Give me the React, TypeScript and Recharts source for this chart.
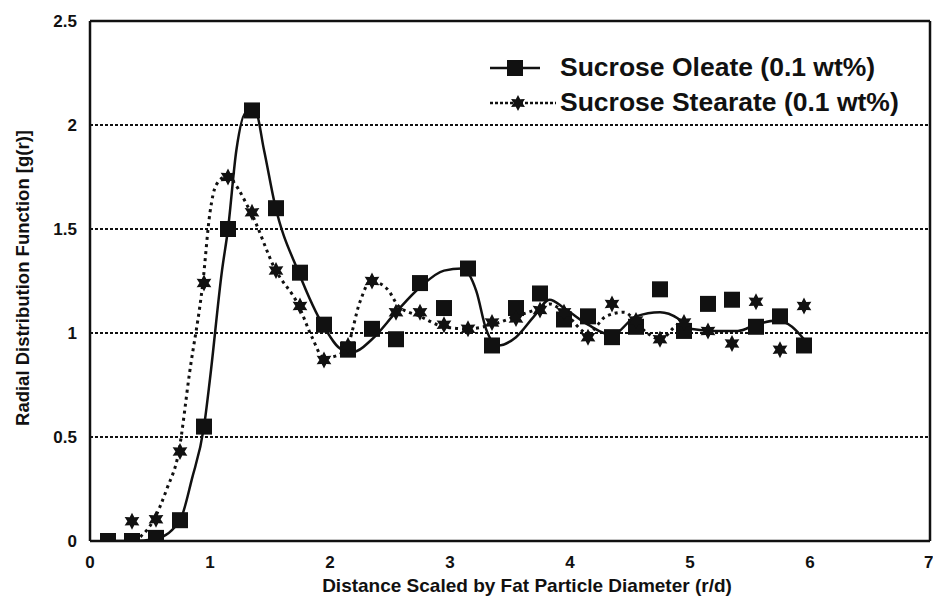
import React from "react";
import {
  ComposedChart,
  Line,
  Scatter,
  XAxis,
  YAxis,
  CartesianGrid,
  ReferenceLine,
  Legend,
} from "recharts";

// Sample positions (r/d)
const oleateX = [0.15, 0.35, 0.55, 0.75, 0.95, 1.15, 1.35, 1.55, 1.75, 1.95, 2.15, 2.35, 2.55, 2.75, 2.95, 3.15, 3.35, 3.55, 3.75, 3.95, 4.15, 4.35, 4.55, 4.75, 4.95, 5.15, 5.35, 5.55, 5.75, 5.95];
const oleateY = [0, 0, 0.015, 0.1, 0.55, 1.5, 2.07, 1.6, 1.29, 1.04, 0.92, 1.02, 0.97, 1.24, 1.12, 1.31, 0.94, 1.12, 1.19, 1.065, 1.08, 0.98, 1.03, 1.21, 1.01, 1.14, 1.16, 1.03, 1.08, 0.94];

const stearateX = [0.35, 0.55, 0.75, 0.95, 1.15, 1.35, 1.55, 1.75, 1.95, 2.15, 2.35, 2.55, 2.75, 2.95, 3.15, 3.35, 3.55, 3.75, 3.95, 4.15, 4.35, 4.55, 4.75, 4.95, 5.15, 5.35, 5.55, 5.75, 5.95];
const stearateY = [0.095, 0.105, 0.43, 1.24, 1.75, 1.58, 1.3, 1.13, 0.87, 0.94, 1.25, 1.1, 1.1, 1.04, 1.02, 1.05, 1.07, 1.11, 1.1, 0.98, 1.14, 1.06, 0.97, 1.05, 1.01, 0.95, 1.15, 0.92, 1.13];

// Smoothed trend curves
const oleateFitX = [0.15, 0.35, 0.55, 0.75, 0.85, 0.95, 1.0, 1.1, 1.15, 1.22, 1.3, 1.38, 1.45, 1.54, 1.74, 1.95, 2.1, 2.2, 2.35, 2.55, 2.75, 2.95, 3.1, 3.22, 3.3, 3.4, 3.55, 3.7, 3.83, 3.95, 4.15, 4.35, 4.55, 4.75, 4.9, 5.0, 5.2, 5.4, 5.55, 5.72, 5.85, 5.95];
const oleateFitY = [0, 0, 0.01, 0.1, 0.3, 0.55, 0.78, 1.3, 1.5, 1.88, 2.06, 2.06, 1.88, 1.62, 1.29, 1.03, 0.92, 0.91, 0.97, 1.1, 1.22, 1.3, 1.31, 1.2, 1.02, 0.94, 0.98, 1.08, 1.16, 1.12, 1.04, 0.99, 1.08, 1.1, 1.07, 1.02, 1.01, 1.01, 1.04, 1.06, 1.03, 0.97];

const stearateFitX = [0.42, 0.53, 0.64, 0.74, 0.83, 0.94, 1.0, 1.05, 1.13, 1.34, 1.54, 1.74, 1.85, 1.95, 2.05, 2.14, 2.25, 2.34, 2.48, 2.57, 2.75, 2.95, 3.15, 3.35, 3.55, 3.75, 3.83, 3.95, 4.15, 4.3, 4.45, 4.6, 4.75, 4.9, 5.0];
const stearateFitY = [0.02, 0.1, 0.25, 0.43, 0.81, 1.24, 1.58, 1.71, 1.75, 1.58, 1.31, 1.13, 0.98, 0.88, 0.89, 0.93, 1.15, 1.25, 1.21, 1.13, 1.08, 1.03, 1.02, 1.04, 1.08, 1.12, 1.14, 1.1, 1.0, 1.08, 1.1, 1.02, 0.97, 1.04, 1.05];

const xTicks = [0, 1, 2, 3, 4, 5, 6, 7];
const yTicks = [0, 0.5, 1, 1.5, 2, 2.5];

const seriesNames = ["Sucrose Oleate (0.1 wt%)", "Sucrose Stearate (0.1 wt%)"];
const xTitle = "Distance Scaled by Fat Particle Diameter (r/d)";
const yTitle = "Radial Distribution Function [g(r)]";

const zip = (xs: number[], ys: number[]) => xs.map((x, i) => ({ x, y: ys[i] }));
const oleate = zip(oleateX, oleateY);
const stearate = zip(stearateX, stearateY);
const oleateFit = zip(oleateFitX, oleateFitY);
const stearateFit = zip(stearateFitX, stearateFitY);

const INK = "#111";
const FONT = "'Liberation Sans', Arial, sans-serif";

const starPath = (cx: number, cy: number, ro: number, ri: number) => {
  let d = "";
  for (let i = 0; i < 12; i++) {
    const r = i % 2 === 0 ? ro : ri;
    const a = (Math.PI / 6) * i - Math.PI / 2;
    d += (i === 0 ? "M" : "L") + (cx + r * Math.cos(a)).toFixed(2) + "," + (cy + r * Math.sin(a)).toFixed(2);
  }
  return d + "Z";
};

const SquareShape = (props: any) => {
  const { cx, cy } = props;
  if (cx == null || cy == null) return null;
  return <rect x={cx - 8} y={cy - 8} width={16} height={16} fill={INK} />;
};

const StarShape = (props: any) => {
  const { cx, cy } = props;
  if (cx == null || cy == null) return null;
  return <path d={starPath(cx, cy, 8.5, 4.6)} fill={INK} />;
};

const LegendContent = () => (
  <div style={{ fontFamily: FONT, fontWeight: "bold", fontSize: 26.5, color: INK, lineHeight: "35px", whiteSpace: "nowrap" }}>
    <div style={{ display: "flex", alignItems: "center" }}>
      <svg width={68} height={20} style={{ marginRight: 2 }}>
        <line x1={0} y1={10} x2={50} y2={10} stroke={INK} strokeWidth={2.5} />
        <rect x={17} y={2} width={16} height={16} fill={INK} />
      </svg>
      <span>{seriesNames[0]}</span>
    </div>
    <div style={{ display: "flex", alignItems: "center" }}>
      <svg width={68} height={20} style={{ marginRight: 2 }}>
        <line x1={0} y1={10} x2={66} y2={10} stroke={INK} strokeWidth={2.5} strokeDasharray="3 2" />
        <path d={starPath(28, 10, 8, 4.4)} fill={INK} />
      </svg>
      <span>{seriesNames[1]}</span>
    </div>
  </div>
);

export default function App() {
  return (
    <div style={{ position: "absolute", left: 0, top: 0, width: 933, height: 599, background: "#fff" }}>
      <ComposedChart width={933} height={599} margin={{ top: 21, right: 3, left: 0, bottom: 0 }}>
        <CartesianGrid vertical={false} stroke={INK} strokeDasharray="3 2" strokeWidth={1.8} />
        <XAxis
          type="number"
          dataKey="x"
          domain={[0, 7]}
          ticks={xTicks}
          height={58}
          axisLine={{ stroke: INK, strokeWidth: 2.5 }}
          tickLine={false}
          tickSize={6}
          tickMargin={9}
          tick={{ fontSize: 17, fontWeight: "bold", fill: INK, fontFamily: FONT }}
          allowDataOverflow
          label={{ value: xTitle, position: "center", dx: 17, dy: 15, style: { fontSize: 19, fontWeight: "bold", fill: INK, fontFamily: FONT } }}
        />
        <YAxis
          type="number"
          dataKey="y"
          domain={[0, 2.5]}
          ticks={yTicks}
          width={90}
          axisLine={{ stroke: INK, strokeWidth: 2.5 }}
          tickLine={false}
          tickSize={6}
          tickMargin={7}
          tick={{ fontSize: 17, fontWeight: "bold", fill: INK, fontFamily: FONT }}
          allowDataOverflow
          label={{ value: yTitle, angle: -90, position: "center", dx: -23, dy: -3, style: { fontSize: 18.5, fontWeight: "bold", fill: INK, fontFamily: FONT, textAnchor: "middle" } }}
        />
        <ReferenceLine y={2.5} stroke={INK} strokeWidth={2.5} />
        <ReferenceLine x={7} stroke={INK} strokeWidth={2.5} />
        <Line data={oleateFit} dataKey="y" type="monotone" stroke={INK} strokeWidth={2.5} dot={false} activeDot={false} isAnimationActive={false} legendType="none" />
        <Line data={stearateFit} dataKey="y" type="monotone" stroke={INK} strokeWidth={3} strokeDasharray="3 4" dot={false} activeDot={false} isAnimationActive={false} legendType="none" />
        <Scatter data={oleate} dataKey="y" shape={SquareShape} isAnimationActive={false} name={seriesNames[0]} />
        <Scatter data={stearate} dataKey="y" shape={StarShape} isAnimationActive={false} name={seriesNames[1]} />
        <Legend
          layout="horizontal"
          verticalAlign="middle"
          align="center"
          content={LegendContent}
          wrapperStyle={{ position: "absolute", left: 490, top: 50, width: 440, height: 80 }}
        />
      </ComposedChart>
    </div>
  );
}
